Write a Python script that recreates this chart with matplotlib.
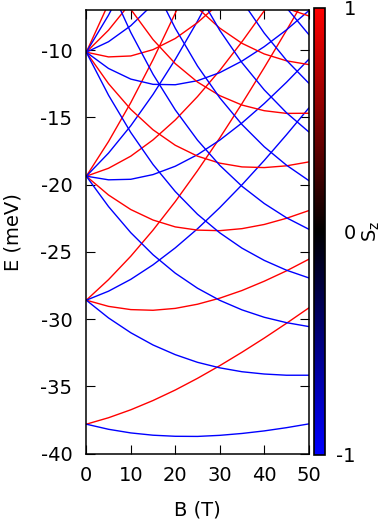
import numpy as np
import matplotlib.pyplot as plt
from matplotlib.colors import LinearSegmentedColormap, Normalize
from matplotlib.colorbar import ColorbarBase

plt.rcParams['font.family'] = 'DejaVu Sans'
plt.rcParams['axes.unicode_minus'] = False

# magnetic field samples (T)
b_field = [0, 5, 10, 15, 20, 25, 30, 35, 40, 45, 50]

# half the gap between the red (S_z=+1) and blue (S_z=-1) line of a pair (meV)
spin_split = [0.00, 0.43, 0.86, 1.29, 1.72, 2.16, 2.59, 3.02, 3.45, 3.88, 4.31]

# mid-point of each red/blue pair (meV), None where the pair is off the top
level_0_0 = [-37.82, -37.77, -37.61, -37.35, -37.00, -36.57, -36.06, -35.49, -34.87, -34.20, -33.49]
level_0_p1 = [-28.60, -29.49, -30.16, -30.64, -30.93, -31.06, -31.04, -30.90, -30.64, -30.30, -29.87]
level_0_m1 = [-28.60, -27.50, -26.19, -24.68, -22.99, -21.13, -19.13, -17.00, -14.76, -12.42, -10.01]
level_0_p2 = [-19.38, -21.21, -22.72, -23.93, -24.87, -25.55, -26.02, -26.30, -26.42, -26.39, -26.25]
level_1_0 = [-19.38, -19.22, -18.75, -17.97, -16.92, -15.62, -14.11, -12.40, -10.53, -8.52, -6.39]
level_0_m2 = [-19.38, -17.23, -14.77, -12.01, -8.98, -5.69, -2.19, None, None, None, None]
level_0_p3 = [-10.16, -12.93, -15.27, -17.22, -18.80, -20.05, -21.00, -21.71, -22.19, -22.49, -22.63]
level_1_p1 = [-10.16, -10.94, -11.30, -11.26, -10.86, -10.12, -9.09, -7.80, -6.30, -4.62, -2.77]
level_1_m1 = [-10.16, -8.95, -7.33, -5.30, None, None, None, None, None, None, None]
level_0_m3 = [-10.16, -6.97, -3.36, None, None, None, None, None, None, None, None]
level_0_p4 = [None, -4.65, -7.83, -10.51, -12.73, -14.54, -15.98, -17.11, -17.96, -18.59, -19.01]
level_0_p5 = [None, None, None, -3.80, -6.66, -9.03, -10.96, -12.52, -13.74, -14.68, -15.39]
level_0_p6 = [None, None, None, None, None, -3.53, -5.94, -7.92, -9.51, -10.78, -11.77]
level_0_p7 = [None, None, None, None, None, None, None, -3.32, -5.29, -6.88, -8.15]
level_0_p8 = [None, None, None, None, None, None, None, None, None, -2.97, -4.53]

levels = [level_0_0, level_0_p1, level_0_m1, level_0_p2, level_1_0, level_0_m2,
          level_0_p3, level_1_p1, level_1_m1, level_0_m3, level_0_p4, level_0_p5,
          level_0_p6, level_0_p7, level_0_p8]

W, H = 386, 525
fig = plt.figure(figsize=(W / 100, H / 100), dpi=100)
ax = fig.add_axes([86.3 / W, 1 - 453.5 / H, 222.4 / W, 443.8 / H])

b = np.array(b_field, dtype=float)
split = np.array(spin_split, dtype=float)
for lev in levels:
    mid = np.array(lev, dtype=float)
    ax.plot(b, mid + split, color='#ff0000', lw=1.0)
    ax.plot(b, mid - split, color='#0000ff', lw=1.0)

ax.set_xlim(0, 50)
ax.set_ylim(-40, -7)
ax.set_xticks([0, 10, 20, 30, 40, 50])
ax.set_yticks([-40, -35, -30, -25, -20, -15, -10])
ax.tick_params(direction='in', length=6.5, width=0.8, top=True, right=True,
               labelsize=14, colors='black')
ax.tick_params(axis='x', pad=9)
ax.tick_params(axis='y', pad=10)
for sp in ax.spines.values():
    sp.set_linewidth(1.1)
ax.set_xlabel('B (T)', fontsize=14, labelpad=11)
ax.set_ylabel('E (meV)', fontsize=14, labelpad=13)

# S_z colour bar, blue -> black -> red
cmap = LinearSegmentedColormap.from_list('sz', ['#0000ff', '#000000', '#ff0000'])
cax = fig.add_axes([313.7 / W, 1 - 455 / H, 11.6 / W, 447.5 / H])
cb = ColorbarBase(cax, cmap=cmap, norm=Normalize(-1, 1), orientation='vertical')
cb.outline.set_linewidth(1.2)
cb.set_ticks([-1, 0, 1])
cb.set_ticklabels(['-1', '0', '1'])
cax.tick_params(length=0, labelsize=14, pad=22)
for lab in cax.get_yticklabels():
    lab.set_horizontalalignment('right')
fig.text(371.7 / W, 1 - 231.7 / H, r'$\mathregular{S_z}$', rotation=90, fontsize=14,
         ha='center', va='center')

fig.savefig('out.png', dpi=100)
